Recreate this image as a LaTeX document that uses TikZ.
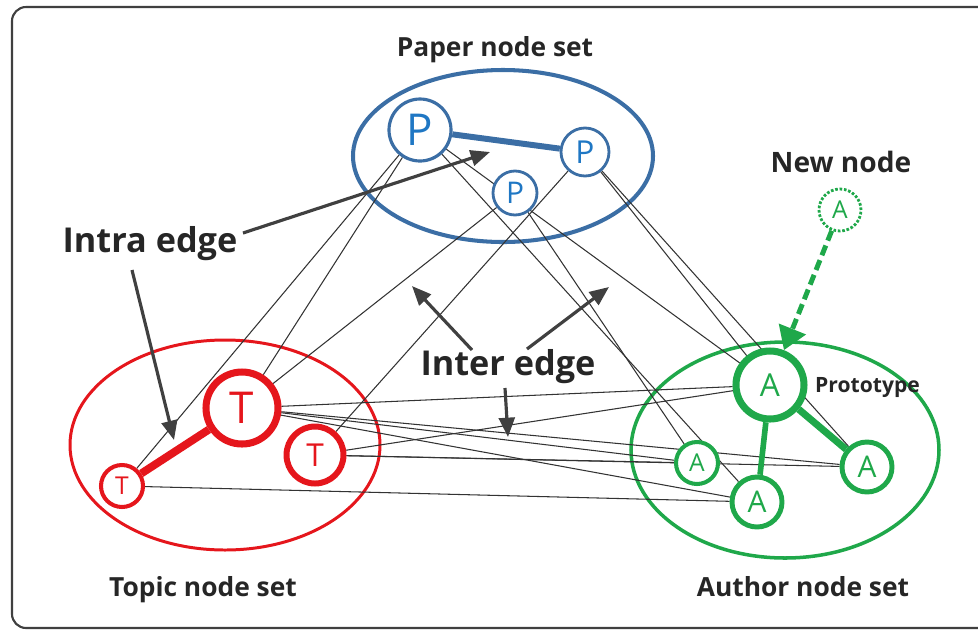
\documentclass[tikz,border=0pt]{standalone}
\usepackage{fontspec}
\setmainfont{Open Sans}
\usetikzlibrary{arrows.meta}

\definecolor{paperblue}{HTML}{3B6EA5}
\definecolor{pblue}{HTML}{1F77C4}
\definecolor{topicred}{HTML}{E5161C}
\definecolor{authorgreen}{HTML}{1FA84A}
\definecolor{arrowgray}{HTML}{404040}

\pgfdeclarelayer{sets}
\pgfdeclarelayer{links}
\pgfsetlayers{sets,links,main}

\begin{document}
\begin{tikzpicture}[x=0.02cm,y=-0.02cm]
    \newcommand{\px}{0.02cm} % one pixel of the reference
    \newcommand{\fsz}[1]{\fontsize{#1}{#1}\selectfont}

    % set the styles of sets, vertices and edges
    \tikzset{
        setlabel/.style={font=\bfseries\fsz{15}, text=black!85},
        edgelabel/.style={font=\bfseries\fsz{19.5}, text=black!85},
        vtx/.style={circle, fill=white, inner sep=0pt},
        paper/.style={vtx, draw=paperblue, text=pblue, line width=1.8pt},
        topic/.style={vtx, draw=topicred, text=topicred},
        author/.style={vtx, draw=authorgreen, text=authorgreen},
        link/.style={line width=0.6pt, draw=black!80},
        pointer/.style={line width=1.8pt, draw=arrowgray,
            -{Triangle[length=11pt,width=9pt]}}
    }

    \useasboundingbox (0,0) rectangle (978,630);
    \draw[rounded corners=8pt, line width=1.2pt, draw=black!75] (12,7) rectangle (995,628);

    % node sets
    \begin{pgfonlayer}{sets}
        \draw[paperblue, line width=2.3pt] (503,156) ellipse [x radius=150, y radius=86];
        \draw[topicred, line width=1.7pt] (225,445) ellipse [x radius=155, y radius=105];
        \draw[authorgreen, line width=2pt] (785,450) ellipse [x radius=154, y radius=108];
    \end{pgfonlayer}

    \node[setlabel] (paperset) at (495,50) {Paper node set};
    \node[setlabel] (topicset) at (203,590) {Topic node set};
    \node[setlabel] (authorset) at (803,587) {Author node set};

    % paper vertices
    \node[paper, minimum size=62*\px, font=\fsz{25}] (p1) at (420,130) {P};
    \node[paper, minimum size=48*\px, font=\fsz{18}, line width=1.6pt] (p2) at (585,152) {P};
    \node[paper, minimum size=44*\px, font=\fsz{17}, line width=1.6pt] (p3) at (515,193) {P};

    % topic vertices
    \node[topic, minimum size=72*\px, font=\fsz{25}, line width=4pt] (t1) at (242,408) {T};
    \node[topic, minimum size=57*\px, font=\fsz{18}, line width=3.4pt] (t2) at (315,455) {T};
    \node[topic, minimum size=42*\px, font=\fsz{14}, line width=2.3pt] (t3) at (122,486) {T};

    % author vertices
    \node[author, minimum size=68*\px, font=\fsz{18}, line width=4pt] (a1) at (770,385) {A};
    \node[author, minimum size=50*\px, font=\fsz{17}, line width=2.8pt] (a2) at (867,467) {A};
    \node[author, minimum size=50*\px, font=\fsz{17}, line width=2.8pt] (a3) at (757,502) {A};
    \node[author, minimum size=42*\px, font=\fsz{14}, line width=2.3pt] (a4) at (697,463) {A};
    \node[author, minimum size=42*\px, font=\fsz{14}, line width=1.6pt,
          dash pattern=on 1.5pt off 1pt] (anew) at (840,210) {A};

    \node[font=\bfseries\fsz{12}, text=black!85, anchor=west] (proto) at (809,387) {Prototype};
    \node[font=\bfseries\fsz{16}, text=black!85] (newlabel) at (841,162) {New node};

    % inter edges
    \begin{pgfonlayer}{links}
        \draw[link] (p1) -- (t1);
        \draw[link] (p1) -- (t3);
        \draw[link] (p3) -- (t1);
        \draw[link] (p2) -- (t2);
        \draw[link] (p1) -- (a1);
        \draw[link] (p1) -- (a3);
        \draw[link] (p2) -- (a1);
        \draw[link] (p2) -- (a2);
        \draw[link] (p3) -- (a4);
        \draw[link] (t1) -- (a1);
        \draw[link] (t2) -- (a1);
        \draw[link] (t1) -- (a4);
        \draw[link] (t1) -- (a2);
        \draw[link] (t1) -- (a3);
        \draw[link] (t2) -- (a4);
        \draw[link] (t2) -- (a2);
        \draw[link] (t3) -- (a3);
    \end{pgfonlayer}

    % intra edges
    \draw[paperblue, line width=3.4pt] (p1) -- (p2);
    \draw[topicred, line width=4.5pt] (t3) -- (t1);
    \draw[authorgreen, line width=3.2pt] (a1) -- (a3);
    \draw[authorgreen, line width=4pt] (a1) -- (a2);
    \draw[authorgreen, line width=2.8pt, dash pattern=on 6pt off 3pt,
          -{Triangle[length=13pt,width=16pt]}] (anew) -- (a1);

    % labels with their arrows
    \node[edgelabel] (intra) at (150,244) {Intra edge};
    \node[edgelabel] (inter) at (508,367) {Inter edge};

    \coordinate (intratail1) at (243,233);
    \coordinate (intratip1) at (490,152);
    \coordinate (intratail2) at (132,270);
    \coordinate (intratip2) at (174,440);
    \coordinate (intertail1) at (472,350);
    \coordinate (intertip1) at (412,286);
    \coordinate (intertail2) at (527,349);
    \coordinate (intertip2) at (609,287);
    \coordinate (intertail3) at (505,388);
    \coordinate (intertip3) at (508,437);

    \draw[pointer] (intratail1) -- (intratip1);
    \draw[pointer] (intratail2) -- (intratip2);
    \draw[pointer] (intertail1) -- (intertip1);
    \draw[pointer] (intertail2) -- (intertip2);
    \draw[pointer] (intertail3) -- (intertip3);
\end{tikzpicture}
\end{document}
